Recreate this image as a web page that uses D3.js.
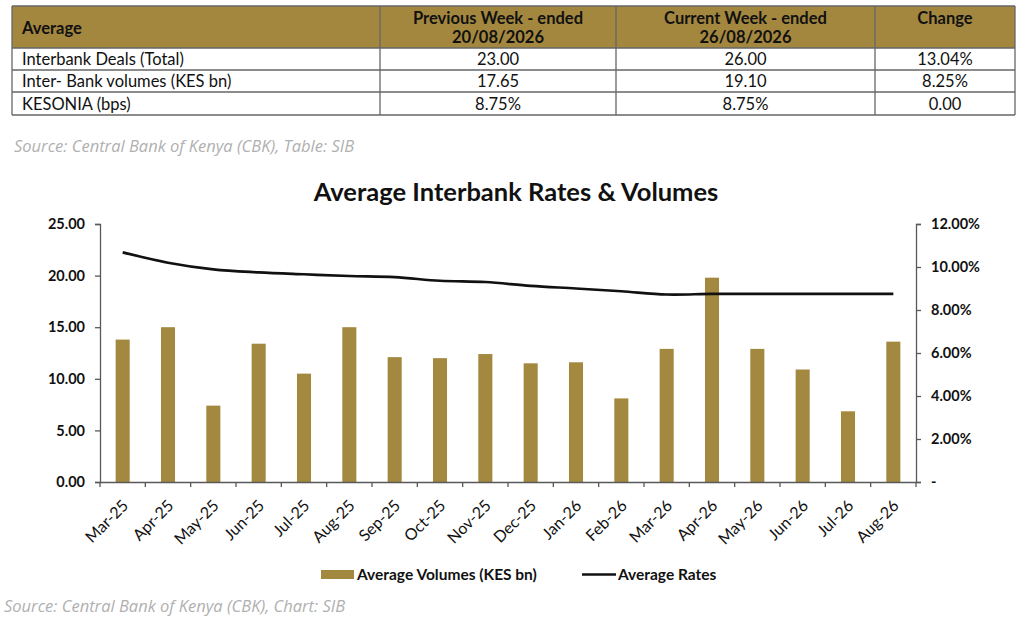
<!DOCTYPE html>
<html>
<head>
<meta charset="utf-8">
<script src="https://cdn.jsdelivr.net/npm/d3@7"></script>
<style>
  body { margin: 0; background: #fff; }
  svg text { font-family: Lato, "Open Sans", sans-serif; }
</style>
</head>
<body>
<div class="viz"></div>
<script>
const width = 1024;
const height = 623;

// table data
const tableHeader = ["Average", "Previous Week - ended|20/08/2026", "Current Week - ended|26/08/2026", "Change"];
const tableRows = [
    ["Interbank Deals (Total)", "23.00", "26.00", "13.04%"],
    ["Inter- Bank volumes (KES bn)", "17.65", "19.10", "8.25%"],
    ["KESONIA (bps)", "8.75%", "8.75%", "0.00"]
];

// chart data
const months = ["Mar-25", "Apr-25", "May-25", "Jun-25", "Jul-25", "Aug-25", "Sep-25", "Oct-25", "Nov-25",
    "Dec-25", "Jan-26", "Feb-26", "Mar-26", "Apr-26", "May-26", "Jun-26", "Jul-26", "Aug-26"];
const volumes = [13.8, 15.0, 7.4, 13.4, 10.5, 15.0, 12.1, 12.0, 12.4, 11.5, 11.6, 8.1, 12.9, 19.8, 12.9, 10.9, 6.85, 13.6];
const rates = [10.68, 10.2, 9.89, 9.75, 9.66, 9.58, 9.53, 9.36, 9.3, 9.12, 9.0, 8.87, 8.72, 8.75, 8.75, 8.75, 8.75, 8.75];
const leftTicks = [0, 5, 10, 15, 20, 25];
const rightTicks = [0, 2, 4, 6, 8, 10, 12];

const gold = "#A3883F";
const axisColor = "#595959";

const svg = d3.select(".viz")
    .append("svg")
    .attr("width", width)
    .attr("height", height);

// ---- table ----
const colX = [12, 380, 616, 875, 1015];
const rowY = [6, 48, 70, 92, 115];

svg.append("rect")
    .attr("x", colX[0]).attr("y", rowY[0])
    .attr("width", colX[4] - colX[0]).attr("height", rowY[1] - rowY[0])
    .attr("fill", "#A3873F");

tableHeader.forEach((h, i) => {
    const lines = h.split("|");
    const t = svg.append("text")
        .attr("font-size", 16.5)
        .attr("font-weight", "bold")
        .attr("fill", "#111");
    if (i === 0) {
        t.attr("x", colX[0] + 10).attr("y", 34).text(h);
    } else {
        const cx = (colX[i] + colX[i + 1]) / 2;
        lines.forEach((l, j) => {
            t.append("tspan")
                .attr("x", cx)
                .attr("y", 24 + j * 19)
                .attr("text-anchor", "middle")
                .text(l);
        });
    }
});

tableRows.forEach((row, r) => {
    const y = (rowY[r + 1] + rowY[r + 2]) / 2 + 6;
    row.forEach((cell, i) => {
        svg.append("text")
            .attr("x", i === 0 ? colX[0] + 10 : (colX[i] + colX[i + 1]) / 2)
            .attr("y", y)
            .attr("text-anchor", i === 0 ? "start" : "middle")
            .attr("font-size", 16.5)
            .attr("fill", "#111")
            .text(cell);
    });
});

// grid lines of the table
rowY.forEach(y => {
    svg.append("line")
        .attr("x1", colX[0]).attr("x2", colX[4])
        .attr("y1", y).attr("y2", y)
        .attr("stroke", "#666").attr("stroke-width", 1.3);
});
colX.forEach(x => {
    svg.append("line")
        .attr("x1", x).attr("x2", x)
        .attr("y1", rowY[0]).attr("y2", rowY[4])
        .attr("stroke", "#666").attr("stroke-width", 1.3);
});

svg.append("text")
    .attr("x", 14).attr("y", 152)
    .attr("font-size", 16.5)
    .attr("font-style", "italic")
    .attr("fill", "#b0b0b0")
    .style("font-family", "'Open Sans', sans-serif")
    .text("Source: Central Bank of Kenya (CBK), Table: SIB");

// ---- chart ----
svg.append("text")
    .attr("x", 516).attr("y", 201)
    .attr("text-anchor", "middle")
    .attr("font-size", 25.5)
    .attr("font-weight", "bold")
    .attr("fill", "#111")
    .text("Average Interbank Rates & Volumes");

const x = d3.scaleBand()
    .domain(months)
    .range([100, 916])
    .paddingInner(0.69)
    .paddingOuter(0.345);

const yL = d3.scaleLinear().domain([0, 25]).range([482, 224]);
const yR = d3.scaleLinear().domain([0, 12]).range([482, 224]);

// bars
svg.selectAll(".bar")
    .data(months)
    .enter()
    .append("rect")
    .attr("class", "bar")
    .attr("x", d => x(d))
    .attr("width", x.bandwidth())
    .attr("y", (d, i) => yL(volumes[i]))
    .attr("height", (d, i) => yL(0) - yL(volumes[i]))
    .attr("fill", gold);

// line
const line = d3.line()
    .x((d, i) => x(months[i]) + x.bandwidth() / 2)
    .y(d => yR(d))
    .curve(d3.curveCatmullRom.alpha(0.5));

svg.append("path")
    .datum(rates)
    .attr("d", line)
    .attr("fill", "none")
    .attr("stroke", "#111")
    .attr("stroke-width", 2.6);

// axes
const styleAxis = g => {
    g.selectAll(".domain").attr("stroke", axisColor).attr("stroke-width", 1.3);
    g.selectAll(".tick line").attr("stroke", axisColor).attr("stroke-width", 1.3);
    g.selectAll("text")
        .attr("fill", "#111")
        .attr("font-size", 14.5)
        .attr("font-weight", "bold")
        .style("font-family", "Lato, sans-serif");
};

svg.append("g")
    .attr("transform", "translate(100,0)")
    .call(d3.axisLeft(yL).tickValues(leftTicks).tickFormat(d3.format(".2f")).tickSizeOuter(0).tickSize(5).tickPadding(10))
    .call(styleAxis);

svg.append("g")
    .attr("transform", "translate(916,0)")
    .call(d3.axisRight(yR).tickValues(rightTicks)
        .tickFormat(d => d === 0 ? "-" : d3.format(".2f")(d) + "%")
        .tickSizeOuter(0).tickSize(5).tickPadding(10))
    .call(styleAxis);

const xAxis = svg.append("g")
    .attr("transform", "translate(0,482)")
    .call(d3.axisBottom(x).tickSizeOuter(0).tickSize(0))
    .call(styleAxis);

// ticks between categories (Excel style)
svg.append("g")
    .selectAll("line")
    .data(d3.range(months.length + 1))
    .enter()
    .append("line")
    .attr("x1", i => 100 + i * x.step())
    .attr("x2", i => 100 + i * x.step())
    .attr("y1", 482).attr("y2", 487)
    .attr("stroke", axisColor)
    .attr("stroke-width", 1.3);

xAxis.selectAll(".domain").attr("d", "M100,0.5H916");
xAxis.selectAll("text")
    .attr("font-size", 16)
    .attr("font-weight", "normal")
    .attr("text-anchor", "end")
    .attr("dx", "0")
    .attr("dy", "0.75em")
    .attr("transform", "translate(-4,14) rotate(-45)");

// legend
const legend = svg.append("g").attr("font-size", 15.5).attr("font-weight", "bold");
legend.append("rect")
    .attr("x", 321).attr("y", 570).attr("width", 33).attr("height", 9)
    .attr("fill", gold);
legend.append("text")
    .attr("x", 357).attr("y", 580)
    .attr("fill", "#111")
    .text("Average Volumes (KES bn)");
legend.append("line")
    .attr("x1", 582).attr("x2", 616).attr("y1", 574.5).attr("y2", 574.5)
    .attr("stroke", "#111").attr("stroke-width", 2.6);
legend.append("text")
    .attr("x", 618).attr("y", 580)
    .attr("fill", "#111")
    .text("Average Rates");

svg.append("text")
    .attr("x", 4).attr("y", 612)
    .attr("font-size", 16.5)
    .attr("font-style", "italic")
    .attr("fill", "#b0b0b0")
    .style("font-family", "'Open Sans', sans-serif")
    .text("Source: Central Bank of Kenya (CBK), Chart: SIB");
</script>
</body>
</html>
